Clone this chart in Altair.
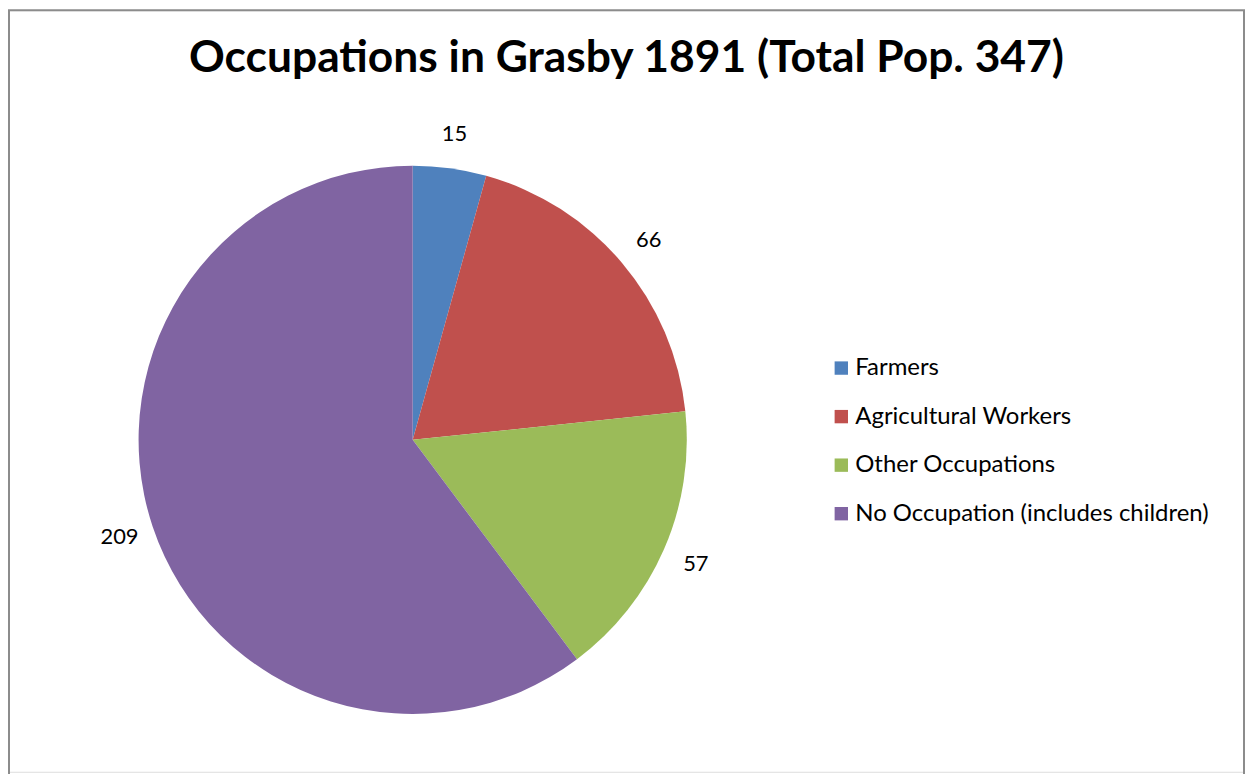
import altair as alt
import pandas as pd

categories = ["Farmers", "Agricultural Workers", "Other Occupations", "No Occupation (includes children)"]
values = [15, 66, 57, 209]
colors = ["#4F81BD", "#C0504D", "#9BBB59", "#8064A2"]

df = pd.DataFrame({"category": categories, "value": values, "order": list(range(len(values)))})

FONT = "Lato"
CX, CY = 405, 431
W, H = 1239, 764

base = alt.Chart(df).encode(
    theta=alt.Theta("value:Q", stack=True),
    order=alt.Order("order:Q"),
)

arcs = base.mark_arc(radius=275).encode(
    x=alt.value(CX),
    y=alt.value(CY),
    color=alt.Color(
        "category:N",
        sort=categories,
        scale=alt.Scale(domain=categories, range=colors),
        legend=alt.Legend(
            title=None,
            orient="none",
            legendX=823,
            legendY=347,
            symbolType="square",
            symbolSize=180,
            symbolStrokeWidth=0,
            labelFont=FONT,
            labelFontSize=24,
            labelColor="#000000",
            labelLimit=0,
            rowPadding=24.7,
            labelOffset=2,
        ),
    ),
)

labels = base.mark_text(radius=310, font=FONT, fontSize=22, color="#000000").encode(
    x=alt.value(CX),
    y=alt.value(CY),
    text=alt.Text("value:Q"),
)

frame = alt.Chart(pd.DataFrame({"k": [0]})).mark_rect(
    filled=False, stroke="#8c8c8c", strokeWidth=2
).encode(
    x=alt.value(0), x2=alt.value(W), y=alt.value(0), y2=alt.value(H + 40)
)

chart = (
    alt.layer(frame, arcs, labels)
    .properties(
        width=W,
        height=H,
        padding={"left": 1, "top": 1, "right": 1, "bottom": 1},
        autosize=alt.AutoSizeParams(type="none"),
        title=alt.TitleParams(
            "Occupations in Grasby 1891 (Total Pop. 347)",
            font=FONT,
            fontSize=44.5,
            fontWeight="bold",
            color="#000000",
            anchor="middle",
            baseline="alphabetic",
            offset=0,
            dy=107,
        ),
    )
    .configure_view(stroke="transparent")
    .configure(background="white")
)

chart.save("out.html", embed_options={"renderer": "svg", "actions": False})
